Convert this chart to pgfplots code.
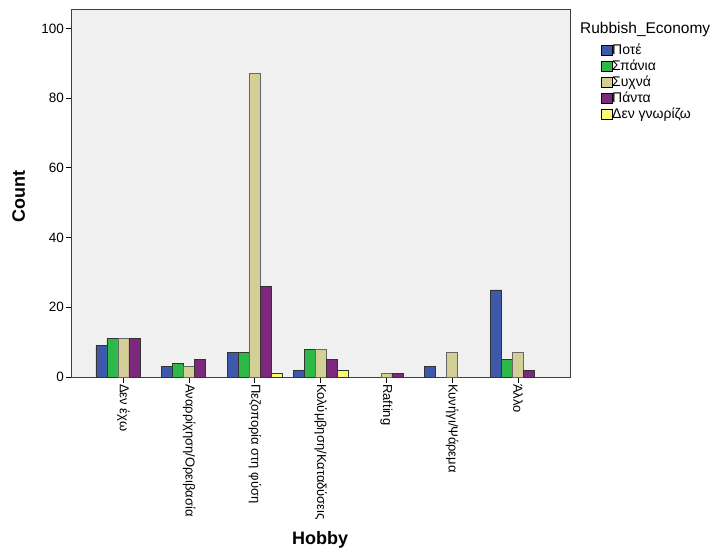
\documentclass[border=0pt]{standalone}
\usepackage{pgfplots}
\pgfplotsset{compat=1.18}
\usepackage{fontspec}
\setmainfont{Liberation Sans}
\usetikzlibrary{calc}
\definecolor{cBlue}{RGB}{62,88,172}
\definecolor{cGreen}{RGB}{46,184,72}
\definecolor{cTan}{RGB}{212,206,151}
\definecolor{cPurple}{RGB}{124,40,125}
\definecolor{cYellow}{RGB}{251,248,115}
\definecolor{bgc}{RGB}{240,240,240}
\pgfplotsset{sq/.style={legend image code/.code={\draw[##1,draw=black,line width=0.6pt] (0pt,-4.5pt) rectangle (10.5pt,6pt);}}}
\begin{document}
\begin{tikzpicture}
\begin{axis}[
 name=ax,
 scale only axis, width=498pt, height=367pt,
 xmin=-0.78, xmax=6.79, ymin=0, ymax=105.3,
 ybar=0pt, bar width=11pt,
 axis background/.style={fill=bgc},
 axis line style={draw=black!75, line width=1pt},
 xtick={0,...,6},
 xticklabels={Δεν έχω, Αναρρίχηση/Ορειβασία, Πεζοπορία στη φύση, Κολύμβηση/Καταδύσεις, Rafting, Κυνήγι/Ψάρεμα, Άλλο},
 ytick={0,20,...,100},
 tick align=outside, tick pos=left, major tick length=6pt,
 tick style={black, line width=0.8pt},
 xticklabel style={rotate=-90, anchor=west, font=\fontsize{13}{15}\selectfont, inner sep=1pt},
 yticklabel style={font=\fontsize{13.5}{15}\selectfont, inner sep=2pt},
 /pgf/number format/assume math mode=true,
 ylabel={Count}, xlabel={Hobby},
 ylabel style={at={(axis description cs:-0.107,0.493)}, anchor=center, font=\bfseries\fontsize{18}{20}\selectfont},
 xlabel style={at={(axis description cs:0.498,-0.443)}, anchor=center, font=\bfseries\fontsize{18}{20}\selectfont},
 clip=false,
 legend cell align=left,
 legend style={draw=none, fill=none, at={(axis description cs:1.062,0.907)}, anchor=north west,
   font=\fontsize{14}{16}\selectfont, inner sep=0pt, row sep=3pt,
   nodes={inner sep=0pt, text height=10pt, text depth=3pt},
   /tikz/every even column/.append style={column sep=2pt}},
]
\addplot[sq, fill=cBlue, draw=black!80, line width=0.6pt] coordinates {(0,9) (1,3) (2,7) (3,2) (5,3) (6,25)};
\addplot[sq, fill=cGreen, draw=black!80, line width=0.6pt] coordinates {(0,11) (1,4) (2,7) (3,8) (6,5)};
\addplot[sq, fill=cTan, draw=black!60, line width=0.6pt] coordinates {(0,11) (1,3) (2,87) (3,8) (4,1) (5,7) (6,7)};
\addplot[sq, fill=cPurple, draw=black!80, line width=0.6pt] coordinates {(0,11) (1,5) (2,26) (3,5) (4,1) (6,2)};
\addplot[sq, fill=cYellow, draw=black!80, line width=0.6pt] coordinates {(2,1) (3,2)};
\legend{Ποτέ, Σπάνια, Συχνά, Πάντα, Δεν γνωρίζω}
\node[anchor=west, font=\fontsize{15.5}{17}\selectfont, inner sep=0pt] at (axis description cs:1.02,0.948) {Rubbish\_Economy};
\end{axis}
\pgfresetboundingbox
\path[use as bounding box] ($(ax.south west)+(-72pt,-174pt)$) rectangle ($(ax.north east)+(145pt,10pt)$);
\end{tikzpicture}
\end{document}
